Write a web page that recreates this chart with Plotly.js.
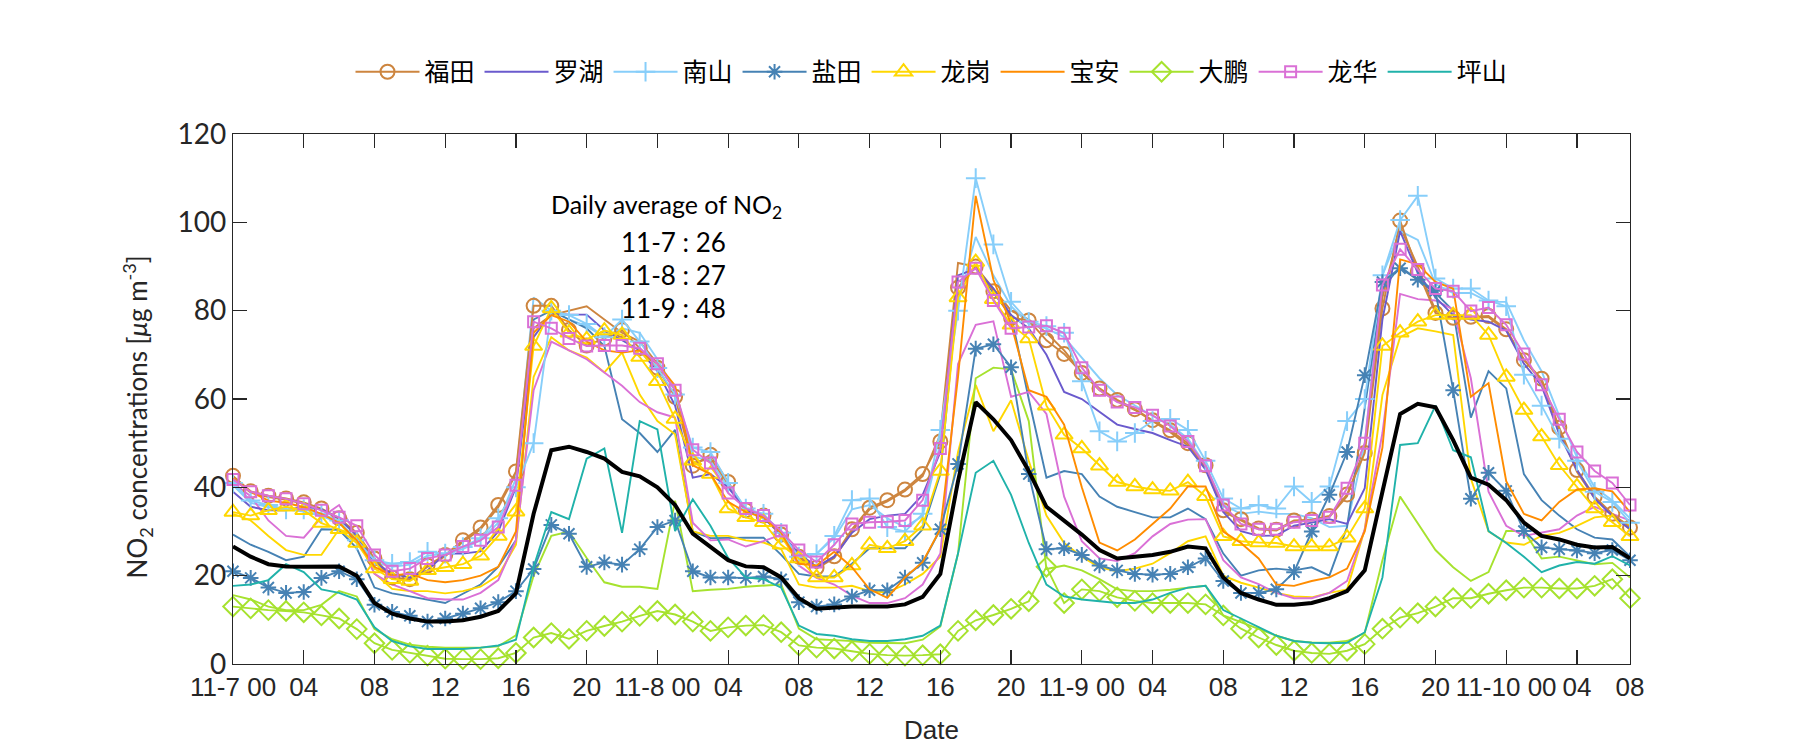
<!DOCTYPE html>
<html><head><meta charset="utf-8">
<script src="https://cdn.plot.ly/plotly-3.0.1.min.js"></script>
<style>html,body{margin:0;padding:0;background:#fff}#chart{width:1800px;height:750px}</style>
</head><body><div id="chart"></div>
<script>
// hour index from 11-7 00 (0) to 11-10 07 (79)
const hourIndex = [0,1,2,3,4,5,6,7,8,9,10,11,12,13,14,15,16,17,18,19,20,21,22,23,24,25,26,27,28,29,30,31,32,33,34,35,36,37,38,39,40,41,42,43,44,45,46,47,48,49,50,51,52,53,54,55,56,57,58,59,60,61,62,63,64,65,66,67,68,69,70,71,72,73,74,75,76,77,78,79];
const tickPositions = [0,4,8,12,16,20,24,28,32,36,40,44,48,52,56,60,64,68,72,76,79];
const tickLabels = ["11-7 00","04","08","12","16","20","11-8 00","04","08","12","16","20","11-9 00","04","08","12","16","20","11-10 00","04","08"];
const yTicks = [0,20,40,60,80,100,120];

const futian = [42.6,39.1,38.1,37.5,36.6,35.2,33.0,29.7,23.9,19.6,19.2,22.3,24.7,28.0,30.9,36.0,43.6,
 81.1,81.1,75.6,72.1,73.7,75.6,71.5,67.1,60.5,44.9,47.4,
 41.2,34.8,33.6,29.3,24.3,21.8,24.4,30.5,35.4,37.1,39.5,43.0,50.4,
 85.2,90.0,84.4,78.4,77.8,73.3,70.2,65.9,62.4,59.8,57.7,55.2,52.9,50.0,45.0,
 34.8,32.8,30.7,30.4,32.5,32.7,33.5,38.4,47.8,80.5,100.4,88.9,79.5,
 78.4,78.6,78.8,75.8,68.8,64.6,53.5,43.9,37.9,34.0,30.9];
const futian2 = [42.0,38.8,37.8,37.2,36.3,35.0,32.8,29.3,23.5,19.3,19.0,22.0,24.4,27.6,30.5,35.5,43.0,
 76,79,80,81,78,75,73,68,62,45.5,46.5,
 40.5,34.5,33.3,29.0,24.0,21.6,24.0,30.0,35.0,36.8,39.2,42.5,52,
 90.8,90.0,85,80,78,75,71,66,62,59.5,57.5,55,52.5,49.5,44.5,
 34.5,32.5,30.5,30.2,32.3,32.5,33.3,38,49,83,99,90,80,
 78,78.5,78.5,75.5,69,64,53,43.5,37.5,33.8,30.5];
const luohu = [39,35.6,34.8,34.8,35.6,35,33,29,23,20.4,19.6,21.2,25,25,25.5,30,40,
 74,79.5,79.1,79.1,75.6,73.3,71,66.3,58.5,42.2,43,
 40,35,33,29.5,25,22,24.3,29.7,32.8,33.6,34,38.3,48,
 88,89.5,85,79,76,70,61.6,60,57,54.2,53.2,52.3,50.7,49.2,44,
 34.4,30.1,29,29.1,31.3,32,32.8,31.7,39.8,78,98,88.5,83,
 79,78,77.5,75.5,68,63,52,44,37.5,33.5,30.5];
const nanshan = [41,37,36,35,35,34,32.5,28,23.5,22.7,23.1,25.4,25,26.5,28.5,33,40,
 50,80,79,77,74,78,73,67,61,49,48,
 41,35.2,34,29.7,24.3,24.9,29,37.1,37.5,31,30,34,53,
 80,110,95,82,77.5,76.5,75,64,52.7,50.4,52.3,55,55.5,53,46,
 37.5,35.2,36,35.2,40.2,36.7,40.2,55,60,88,100.5,106,87.3,
 85,85,82.3,81,65.5,58.5,51,46,39,36.7,32];
const nanshan2 = [40.5,36.5,35.5,35,34.5,33.5,32,27.5,23,22,22.5,24.5,25,26,28,32,42,
 83,80,78,76.5,74,76,75,69,62,47,46,
 40,35,33.5,29.5,24.5,25,28.5,35,36,33,31,33.5,50,
 82,96.7,88,81,77,76,74,69.4,64.7,60.9,58.5,56.2,54.2,51,45,
 36,34,34.5,34,34,33,31,31.3,50,88,98,96,86,
 84,84,82,82,73.3,66.3,56.2,46.8,40,37,33];
const yantian = [21.0,19.5,17.3,16.1,16.3,19.5,21.0,19.2,13.4,11.8,10.9,9.6,10.3,11.4,12.6,14,16.5,
 21.5,31.5,29.5,22,23,22.5,26,31,32.5,21,19.6,
 19.6,19.5,19.8,19.2,14,13,13.5,15.3,16.7,16.7,19.6,22.9,30.5,
 45.3,71.4,72.4,67.2,43,26,26.2,24.7,22.3,21.2,20.4,20.2,20.4,21.9,23.9,
 18.8,16.1,16.1,16.9,20.8,30,38.3,48,65.4,86.5,89.6,87,84.5,
 62,37.4,43.3,39.2,30.1,26.4,26,25.7,25.1,25.8,23.5];
const yantian2 = [29.3,27,25.4,23.5,24.3,30.5,30.4,26.2,17.3,16,15.3,14.5,13.8,15.9,18,22,28,
 78,80,78,76,72,55.4,52.3,48,53,30,28.5,
 28.6,28.6,28.6,24.7,20.4,19.8,19.8,22.7,26.2,26.2,26.2,30.5,43,
 85,90,84,79,60,42.2,43.7,43,37.9,35.6,34.4,33.2,33.2,35.2,32.8,
 25,20,21.2,21.6,21.2,21.9,20,31,58,85,90,87,84,
 80,55.8,66.3,62.4,43,37.1,33.6,30.5,28.6,28.2,24.3];
const longgang = [34.4,33.6,34.8,35.6,34.8,31.9,30.5,27.4,21.6,19.2,18.8,21.2,21.9,22.6,24.5,29,34.5,
 72,80.5,75,73.5,75.5,74.5,69.5,64,55.5,46,43,
 35.2,33.2,32.1,27,23.9,19.6,19.6,22.3,27,26.2,27.8,31.3,43.7,
 83,91,82.6,76.8,73.7,58.5,51.9,48.8,44.9,41.2,40.2,39.5,39.2,41.2,38,
 28.9,27.8,27.5,27.4,26.6,26.6,26.6,28.6,35.2,72,75,77.5,79,
 79,79,74.5,65,57.5,51.5,45,40.2,35.2,32.1,28.9];
const longgang2 = [34,32.5,29,25.8,24.7,24.7,30.5,29,20.5,17,16.5,16.5,16,16.5,17.5,20,27,
 65,74,71,69.4,66,70.5,61,55,52,30,29,
 29,28,27.5,26,18,17.3,17.3,17.7,16.5,16.2,18,20.4,24.3,
 48,63.2,52.7,59.7,46,33.6,27.4,24.3,21.9,21,21.6,22.7,25.1,27.8,28.9,
 20,18.4,17.3,16.1,15.3,15.1,16.1,16.9,30.5,60.9,74,76,75.3,
 74.5,42,30,27.5,27,29,29.7,31.3,33.2,33.6,31.3];
const baoan = [42,39,37,36.5,35.5,34,32,28,22,20,20.5,19,18.5,19,20,22,30,
 75,79,77.5,73,71,70.5,71,68,63,45,43,
 36.7,34.4,33.2,29.7,22.7,22.3,25.4,21.9,16.9,15,19.6,23.1,30.5,
 65,106,87,77,62,60.5,54.2,40,27.5,25.7,28.2,31.7,35.2,40.2,40.2,
 30,27.4,23.9,18,17.7,18.8,19.6,21.6,30,49,91.6,90.5,86.5,
 85,60.5,63.6,41.4,34,32.5,36.7,39.5,39.8,39.1,34.4];
const dapeng = [13,12.6,12.2,12,11.7,11,10.3,7.9,4.7,3.2,2.5,1.9,1.2,1.1,1.1,1.3,2.5,
 6,7,5.7,7.5,8.6,9.6,10.9,12,11.2,9.6,7.5,
 8.3,8.7,8.8,7.2,4.2,3.7,3.5,2.9,2.3,2,1.9,2,2.2,
 7.5,9.9,11.1,12.5,14.2,22,13.8,16.9,16.5,15.1,14.3,13.8,13.8,13.8,13.5,
 11,8,6,4.3,3,2.5,2.3,3,4.5,8,10.5,11.5,13,
 14.9,14.9,15.9,16.7,17.3,17.3,17.1,17.1,17.7,19.2,14.9];
const dapeng2 = [15.6,14.6,13,12.2,12.2,13.4,16.5,15.3,7.9,5.6,4.4,3.9,3.7,3.7,3.7,4,6.5,
 20,29,30,24,18.5,17.5,17.5,17,37,16.5,16.8,
 17,17.5,17.8,18,8,5.6,5.4,5.2,4.8,4.7,4.7,5.5,8.5,
 25,64.7,67.1,66.7,55,21.5,22.3,21.2,19.2,16.9,16.5,16.5,16.8,17.3,17.7,
 11,9.5,7.9,6.4,5.2,4.9,4.8,5.2,7,23.5,37.9,32,25.8,
 21.9,18.8,20.8,30.1,30.1,23.9,24.3,23.5,22.6,22.9,19.6];
const longhua = [41.8,39,38.1,37.4,36.3,34.8,33.2,31.3,24.7,21,21.6,23.9,24.7,26.6,28,31,40.5,
 77.5,76,73.7,72,72.1,72.1,71.5,68,62,48.5,45.5,
 38.7,35.2,33.6,30.1,25.8,23.1,27,31.7,32.1,32.2,32.5,37.1,48.8,
 86.5,89.6,82.3,76,76.3,76.6,74.9,67.1,62,59.3,58.1,56.3,53.9,50.4,44.9,
 36,31.7,30.5,30.5,32.1,32.5,33.2,39.8,50,85.8,93.9,89.3,85,
 84.4,79.9,80.7,76.8,70.2,63.2,55.4,48,43.7,41,36];
const longhua2 = [41,38,32.5,29,28.6,33.2,36,29,20.4,18,16.5,14.9,14.6,14.6,16.1,19,28,
 62,73,71,69,66,63,59.3,57,55.8,32,28,
 28.2,26.6,27.8,29.3,22.3,19.5,18,15.5,13.8,13.8,14.9,18,25,
 67.9,76.8,77.6,60.5,61.6,56.6,37.9,27.8,23.9,23.3,25.1,28.9,31.7,32.7,32.8,
 23.5,19.6,18.1,16.1,14.9,14.9,16.1,18.8,30.5,52.3,83.8,82.6,82.3,
 80.3,64.7,39,31.3,29,29.7,30.5,33.6,35.6,34,32.5];
const pingshan = [17.7,18,19,22.6,20.8,16.9,16.1,14.6,8.3,5.2,4,3.4,3.4,3.4,3.7,4.2,5.5,
 22,34.4,32.8,46.5,48.8,29.7,55,53.1,30.1,37.3,31.3,
 24,19.6,19.2,17.3,8.7,6.8,6.4,5.6,5.2,5.2,5.6,6.4,8.7,
 25,43.3,46,38.3,27.4,18,15.3,14.6,14.2,13.8,13.8,14.6,16.1,17.3,17.7,
 12.2,10.3,8.3,6.4,5.2,4.8,4.7,4.8,7.2,19.6,49.6,50,58.5,
 48.4,46.8,30.1,27.4,24.3,20.8,22.3,23.1,22.7,24.4,22.3];
const average = [26.6,24.3,22.6,22.1,22,22,22.1,20,13.8,11.4,10.3,9.6,9.6,9.9,10.7,12,16,
 34,48.4,49.2,48,46.5,43.5,42.5,40,36,29.5,26.5,
 23.5,22.1,21.9,19.6,14.9,12.5,12.8,13,13,13,13.5,15.2,20.4,
 41.4,59.3,55.4,50.7,43.7,35.6,32.5,29.3,25.8,23.9,24.3,24.7,25.4,26.6,26.2,
 19.6,16.1,14.6,13.4,13.4,13.8,14.9,16.5,21.2,39,56.6,58.9,58.1,
 50.7,42.2,40.6,37.1,32,29,28.2,27,26.4,26.5,23.9];

const C = {futian:'#CD853F', luohu:'#6A5ACD', nanshan:'#87CEFA', yantian:'#4682B4', longgang:'#FFD700',
  baoan:'#FF8C00', dapeng:'#A6E22E', longhua:'#DA70D6', pingshan:'#20B2AA'};

function tr(y, name, color, symbol, size, legend){
  const t = {x: hourIndex, y: y, name: name, type:'scatter', cliponaxis:false,
    mode: symbol ? 'lines+markers' : 'lines', showlegend: legend,
    line:{color: color, width: 1.9}};
  if (symbol) t.marker = {symbol: symbol, size: size, color: color, line:{color: color, width: 2}};
  return t;
}
const data = [
  tr(futian2, '福田2', C.futian, null, 0, false),
  tr(nanshan2, '南山2', C.nanshan, null, 0, false),
  tr(yantian2, '盐田2', C.yantian, null, 0, false),
  tr(longgang2, '龙岗2', C.longgang, null, 0, false),
  tr(dapeng2, '大鹏2', C.dapeng, null, 0, false),
  tr(longhua2, '龙华2', C.longhua, null, 0, false),
  tr(futian, '福田', C.futian, 'circle-open', 14, true),
  tr(luohu, '罗湖', C.luohu, null, 0, true),
  tr(nanshan, '南山', C.nanshan, 'cross-thin-open', 14, true),
  tr(yantian, '盐田', C.yantian, 'asterisk-open', 13, true),
  tr(longgang, '龙岗', C.longgang, 'triangle-up-open', 15, true),
  tr(baoan, '宝安', C.baoan, null, 0, true),
  tr(dapeng, '大鹏', C.dapeng, 'diamond-open', 15, true),
  tr(longhua, '龙华', C.longhua, 'square-open', 11, true),
  tr(pingshan, '坪山', C.pingshan, null, 0, true),
  {x: hourIndex, y: average, name:'average', type:'scatter', mode:'lines', showlegend:false,
   line:{color:'#000000', width:4}}
];

const ax = {showline:true, linecolor:'#262626', linewidth:1.2, mirror:'allticks', ticks:'inside',
  ticklen:14, tickcolor:'#262626', tickwidth:1.2, showgrid:false, zeroline:false};
const layout = {
  width:1800, height:750,
  margin:{l:233, r:170, t:134, b:86},
  paper_bgcolor:'#ffffff', plot_bgcolor:'#ffffff',
  font:{family:'Lato, "Noto Sans CJK SC", sans-serif', size:22, color:'#262626'},
  xaxis: Object.assign({}, ax, {range:[0,79], tickmode:'array', tickvals: tickPositions, ticktext: tickLabels,
    tickfont:{family:'"Liberation Sans Narrow", "Liberation Sans", sans-serif', size:26, color:'#262626'},
    title:{text:'Date', font:{family:'"Liberation Sans Narrow", "Liberation Sans", sans-serif', size:26, color:'#262626'}, standoff:19}}),
  yaxis: Object.assign({}, ax, {range:[0,120], tickmode:'array', tickvals: yTicks,
    tickfont:{family:'Lato, sans-serif', size:28, color:'#262626'}}),
  legend:{orientation:'h', x:0.5, xanchor:'center', y:1.117, yanchor:'middle',
    font:{family:'"Noto Sans CJK SC", sans-serif', size:25, color:'#000000'}, itemwidth:64, bgcolor:'rgba(0,0,0,0)'},
  annotations:[
    {xref:'paper', yref:'paper', x:-0.0684, y:0.466, xanchor:'center', yanchor:'middle', textangle:-90,
     text:'NO<sub>2</sub> concentrations [<i>μ</i>g m<sup>-3</sup>]', showarrow:false,
     font:{family:'Lato, sans-serif', size:26, color:'#262626'}},
    {xref:'x', yref:'y', x:24.5, y:103.7, text:'Daily average of NO<sub>2</sub>', showarrow:false, font:{family:'Lato, sans-serif', size:25, color:'#000'}},
    {xref:'x', yref:'y', x:24.9, y:95.5, text:'11-7 : 26', showarrow:false, font:{family:'Lato, sans-serif', size:26, color:'#000'}},
    {xref:'x', yref:'y', x:24.9, y:88.1, text:'11-8 : 27', showarrow:false, font:{family:'Lato, sans-serif', size:26, color:'#000'}},
    {xref:'x', yref:'y', x:24.9, y:80.6, text:'11-9 : 48', showarrow:false, font:{family:'Lato, sans-serif', size:26, color:'#000'}}
  ]
};
Plotly.newPlot('chart', data, layout, {displayModeBar:false, staticPlot:true});
</script></body></html>
